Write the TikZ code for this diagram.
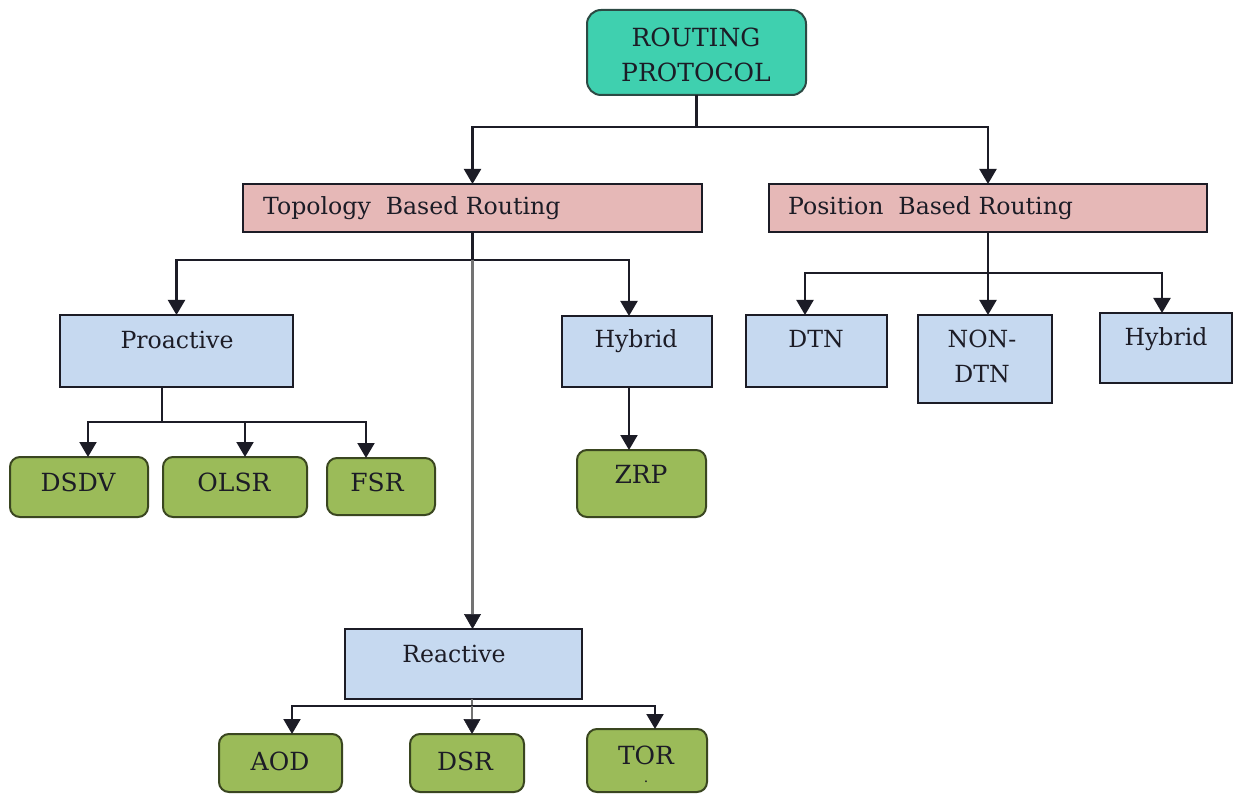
\documentclass[tikz,border=0pt]{standalone}
\usepackage{fontspec}
\setmainfont{DejaVu Serif}
\usetikzlibrary{arrows.meta,calc}

\definecolor{rootc}{HTML}{3FD0AF}
\definecolor{rootd}{HTML}{2C4A44}
\definecolor{catc}{HTML}{E6B8B7}
\definecolor{subc}{HTML}{C6D9F0}
\definecolor{leafc}{HTML}{9BBB59}
\definecolor{leafd}{HTML}{3A4620}
\definecolor{inkc}{HTML}{1C1C26}

% box with its top-left and bottom-right corners given in pixel units
\newcommand{\mkbox}[6]{%
  \node[#6, anchor=north west, minimum width={#4-#2}, minimum height={#5-#3}] (#1) at (#2,#3) {};}

\begin{document}
\begin{tikzpicture}[x=1pt,y=-1pt,
  box/.style={draw=inkc, line width=2pt, inner sep=0pt, outer sep=0pt},
  rootbox/.style={box, fill=rootc, draw=rootd, rounded corners=14pt},
  catbox/.style={box, fill=catc},
  subbox/.style={box, fill=subc},
  leafbox/.style={box, fill=leafc, draw=leafd, rounded corners=10pt},
  txt/.style={inner sep=0pt, text=inkc, anchor=base},
  bigtxt/.style={txt, font=\fontsize{25}{30}\selectfont},
  midtxt/.style={txt, font=\fontsize{23.6}{28}\selectfont},
  link/.style={line width=2.1pt, draw=inkc},
  trunk/.style={line width=2.6pt, draw=black!55},
  arr/.style={link, -{Triangle[width=17pt,length=15pt]}},
  grayarr/.style={trunk, -{Triangle[width=17pt,length=15pt,color=inkc,line width=0.5pt]}}
]
\useasboundingbox (0,0) rectangle (1234,794);
\fill[white] (0,0) rectangle (1234,794);

% ---- boxes ----
\mkbox{root}{587}{10}{806}{95}{rootbox}
\mkbox{topo}{243}{184}{702}{232}{catbox}
\mkbox{posb}{769}{184}{1207}{232}{catbox}
\mkbox{pro}{60}{315}{293}{387}{subbox}
\mkbox{hyb}{562}{316}{712}{387}{subbox}
\mkbox{rea}{345}{629}{582}{699}{subbox}
\mkbox{dtn}{746}{315}{887}{387}{subbox}
\mkbox{ndtn}{918}{315}{1052}{403}{subbox}
\mkbox{hyb2}{1100}{313}{1232}{383}{subbox}
\mkbox{dsdv}{10}{457}{148}{517}{leafbox}
\mkbox{olsr}{163}{457}{307}{517}{leafbox}
\mkbox{fsr}{327}{458}{435}{515}{leafbox}
\mkbox{zrp}{577}{450}{706}{517}{leafbox}
\mkbox{aod}{219}{734}{342}{792}{leafbox}
\mkbox{dsr}{410}{734}{524}{792}{leafbox}
\mkbox{tor}{587}{729}{707}{792}{leafbox}

% ---- labels ----
\node[bigtxt] (root-a) at (696,47) {ROUTING};
\node[bigtxt] (root-b) at (696,82) {PROTOCOL};
\node[midtxt, anchor=base west] (topo-t) at (263,215) {Topology\ \ Based Routing};
\node[midtxt, anchor=base west] (posb-t) at (788,215) {Position\ \ Based Routing};
\node[midtxt] (pro-t) at (177,348) {Proactive};
\node[midtxt] (hyb-t) at (636,347) {Hybrid};
\node[midtxt] (rea-t) at (454,662) {Reactive};
\node[midtxt] (dtn-t) at (816,347) {DTN};
\node[midtxt] (ndtn-a) at (982,347) {NON-};
\node[midtxt] (ndtn-b) at (982,382) {DTN};
\node[midtxt] (hyb2-t) at (1166,345) {Hybrid};
\node[bigtxt] (dsdv-t) at (78,491) {DSDV};
\node[bigtxt] (olsr-t) at (234,491) {OLSR};
\node[bigtxt] (fsr-t) at (377,491) {FSR};
\node[bigtxt] (zrp-t) at (641,483) {ZRP};
\node[bigtxt] (aod-t) at (280,770) {AOD};
\node[bigtxt] (dsr-t) at (465,770) {DSR};
\node[bigtxt] (tor-t) at (646,764) {TOR};
\node[txt, font=\fontsize{14}{16}\selectfont] (tor-dot) at (646,782) {.};

% ---- junction points ----
\coordinate (rootj) at (696.5,127);
\coordinate (topj) at (472.5,260);
\coordinate (proj) at (162,422);
\coordinate (posj) at (988,273);
\coordinate (reaj) at (472,706);

% ---- connectors ----
\draw[link] (root.south) -- (rootj);
\draw[arr] (rootj) -| (topo.north);
\draw[arr] (rootj) -| (posb.north);

\draw[link] (topo.south) -- (topj);
\draw[arr] (topj) -| (pro.north);
\draw[arr] (topj) -| ([xshift=67pt]hyb.north west);
\draw[grayarr] (topj) -- (topj |- rea.north);

\draw[link] ([xshift=102pt]pro.south west) -- (proj);
\draw[arr] (proj) -| ([xshift=78pt]dsdv.north west);
\draw[arr] (proj) -| ([xshift=82pt]olsr.north west);
\draw[arr] (proj) -| ([xshift=39pt]fsr.north west);

\draw[arr] ([xshift=67pt]hyb.south west) -- ([xshift=52pt]zrp.north west);

\draw[link] (posb.south) -- (posj);
\draw[arr] (posj) -| ([xshift=59pt]dtn.north west);
\draw[arr] (posj) -| ([xshift=62pt]hyb2.north west);
\draw[arr] (posb.south) -- (posb.south |- ndtn.north);

\draw[trunk] (rea.south -| reaj) -- (reaj);
\draw[arr] (reaj) -| ([xshift=73pt]aod.north west);
\draw[arr] (reaj) -| ([xshift=68pt]tor.north west);
\draw[grayarr] (reaj) -- (reaj |- dsr.north);
\end{tikzpicture}
\end{document}
